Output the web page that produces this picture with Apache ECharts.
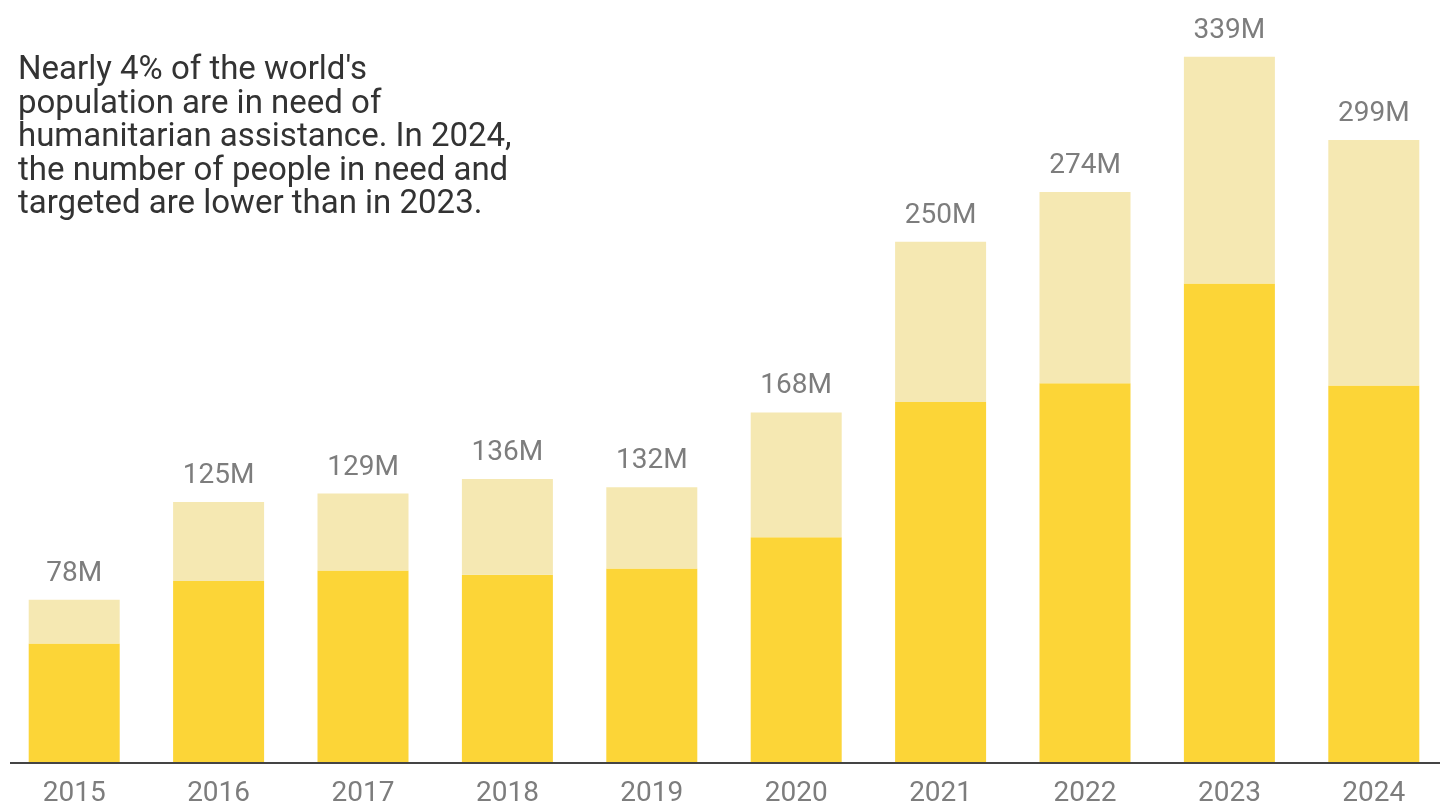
<!DOCTYPE html>
<html>
<head>
<meta charset="utf-8">
<style>
  html, body { margin: 0; padding: 0; background: #fff; }
  #chart { width: 1446px; height: 808px; }
</style>
<script src="https://cdn.jsdelivr.net/npm/echarts@6/dist/echarts.min.js"></script>
</head>
<body>
<div id="chart"></div>
<script>
// data (millions of people)
const years    = ['2015', '2016', '2017', '2018', '2019', '2020', '2021', '2022', '2023', '2024']
const inNeed   = [78, 125, 129, 136, 132, 168, 250, 274, 339, 299]
const targeted = [57, 87, 92, 90, 93, 108, 173, 182, 230, 181]

// light part of the bar = in need but not targeted
const notTargeted = inNeed.map((v, i) => v - targeted[i])

const note = [
  'Nearly 4% of the world\'s',
  'population are in need of',
  'humanitarian assistance. In 2024,',
  'the number of people in need and',
  'targeted are lower than in 2023.',
].join('\n')

const chart = echarts.init(document.getElementById('chart'))

chart.setOption({
  animation: false,
  textStyle: { fontFamily: 'Roboto, sans-serif' },
  grid: { left: 2, right: -2, top: 13, bottom: 45 },
  xAxis: {
    type: 'category',
    data: years,
    axisLine: { show: false },
    axisTick: { show: false },
    axisLabel: { color: '#7d7d7d', fontSize: 28, margin: 18 },
  },
  yAxis: {
    type: 'value',
    min: 0,
    max: 360,
    show: false,
    splitLine: { show: false },
  },
  series: [
    {
      name: 'Targeted',
      type: 'bar',
      stack: 'total',
      barWidth: 91,
      itemStyle: { color: '#fcd537' },
      data: targeted,
    },
    {
      name: 'In need',
      type: 'bar',
      stack: 'total',
      barWidth: 91,
      itemStyle: { color: '#f5e8b2' },
      label: {
        show: true,
        position: 'top',
        distance: 12,
        color: '#7d7d7d',
        fontSize: 28,
        formatter: p => inNeed[p.dataIndex] + 'M',
      },
      data: notTargeted,
    },
  ],
  graphic: [
    {
      type: 'text',
      left: 18,
      top: 54,
      style: {
        text: note,
        fill: '#333',
        fontSize: 33,
        lineHeight: 33.5,
        fontFamily: 'Roboto, sans-serif',
      },
    },
    // baseline, a bit shorter than the plot on both ends
    {
      type: 'line',
      shape: { x1: 10, y1: 763, x2: 1440, y2: 763 },
      style: { stroke: '#444', lineWidth: 2 },
    },
  ],
})
</script>
</body>
</html>
